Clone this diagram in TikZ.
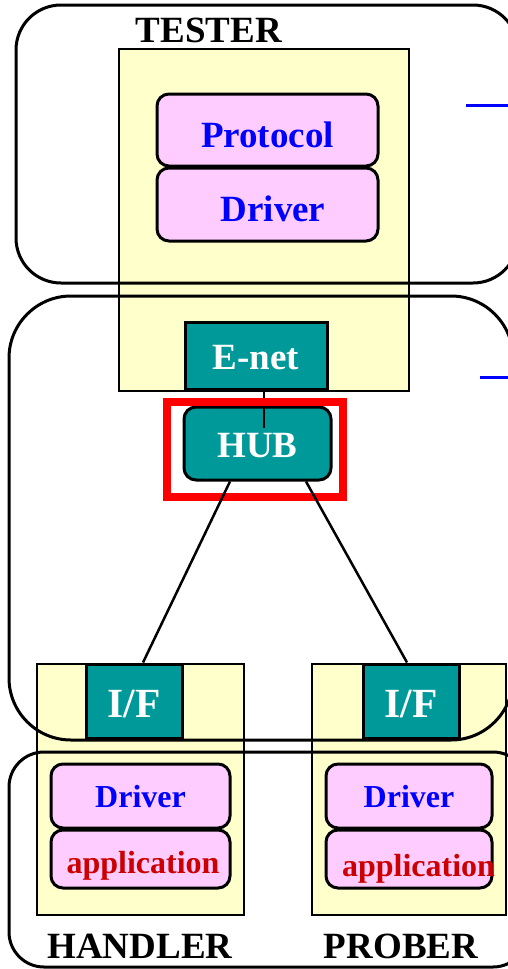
\documentclass[tikz,border=0pt]{standalone}
\usepackage{fontspec}
\setmainfont{Liberation Serif}
\usetikzlibrary{positioning}
\definecolor{unityellow}{HTML}{FFFFCC}
\definecolor{layerpink}{HTML}{FFCCFF}
\definecolor{portteal}{HTML}{009999}
\definecolor{appred}{HTML}{CC0000}

\begin{document}
\begin{tikzpicture}[x=1pt,y=-1pt,
  unit/.style={rectangle, draw, line width=2pt, fill=unityellow, inner sep=0pt},
  layer/.style={rectangle, rounded corners=12pt, draw, line width=3pt, fill=layerpink, inner sep=0pt, text depth=0pt, font=\bfseries\fontsize{37}{40}\selectfont, text=blue},
  small/.style={font=\bfseries\fontsize{32}{36}\selectfont},
  port/.style={rectangle, draw, line width=3pt, fill=portteal, inner sep=0pt, text depth=0pt, text=white, font=\bfseries\fontsize{37}{40}\selectfont},
  region/.style={draw, line width=3pt},
  link/.style={line width=2.5pt},
  title/.style={inner sep=0pt, anchor=base, font=\bfseries\fontsize{37}{40}\selectfont}]
\useasboundingbox (0,0) rectangle (508,969);
\clip (0,0) rectangle (508,969);
% yellow units
\node[unit, minimum width=290, minimum height=342] (tester) at (264,220){};
\node[unit, minimum width=207, minimum height=251] (handler) at (140.5,789.5){};
\node[unit, minimum width=194, minimum height=251] (prober) at (409,789.5){};
% regions
\draw[region, rounded corners=45] (16,5) rectangle (518,283);
\draw[region, rounded corners=62] (9,296) rectangle (513,740);
\draw[region, rounded corners=35] (9,752) rectangle (528,967);
\draw[blue, line width=3pt] (466,105) -- (508,105);
\draw[blue, line width=3pt] (480,377) -- (508,377);
% tester
\node[title] (testerlbl) at (209,42){TESTER};
\node[layer, minimum width=221, minimum height=72, text height=34pt] (protocol) at (267.5,130){Protocol};
\node[layer, minimum width=221, minimum height=73, text height=33pt] (tdriver) at (267.5,204.5){\makebox[0pt]{\hspace{11pt}Driver}};
\node[port, minimum width=142, minimum height=67, text height=27pt] (enet) at (256,355.5){E-net};
% hub
\node[port, rounded corners=12pt, minimum width=147, minimum height=73, text height=27pt] (hub) at (257.5,443.5){HUB};
\coordinate (hubtap) at (264,428);
\draw[link] (enet.south -| hubtap) -- (hubtap);
\node[draw=red, line width=8pt, inner sep=0pt, minimum width=176, minimum height=95] (hubframe) at (255,449.5){};
% handler and prober
\node[port, minimum width=96, minimum height=74, text height=32pt, font=\bfseries\fontsize{41.5}{44}\selectfont] (ifL) at (134,701){I/F};
\node[port, minimum width=96, minimum height=74, text height=32pt, font=\bfseries\fontsize{41.5}{44}\selectfont] (ifR) at (411,701){I/F};
\draw[link] ([xshift=-27.5pt]hub.south) -- ([xshift=9pt]ifL.north);
\draw[link] ([xshift=48.5pt]hub.south) -- ([xshift=-4pt]ifR.north);
\node[layer, small, minimum width=179, minimum height=64, text height=22pt] (hdriver) at (140.5,796){Driver};
\node[layer, small, minimum width=179, minimum height=58, text height=28pt, text=appred] (happ) at (140.5,859){\makebox[0pt]{\hspace{5pt}application}};
\node[layer, small, minimum width=166, minimum height=64, text height=22pt] (pdriver) at (409,796){Driver};
\node[layer, small, minimum width=166, minimum height=58, text height=34pt, text=appred] (papp) at (409,859){\makebox[0pt]{\hspace{19pt}application}};
\node[title] (handlerlbl) at (140,958){HANDLER};
\node[title] (proberlbl) at (401,958){PROBER};
\end{tikzpicture}
\end{document}
